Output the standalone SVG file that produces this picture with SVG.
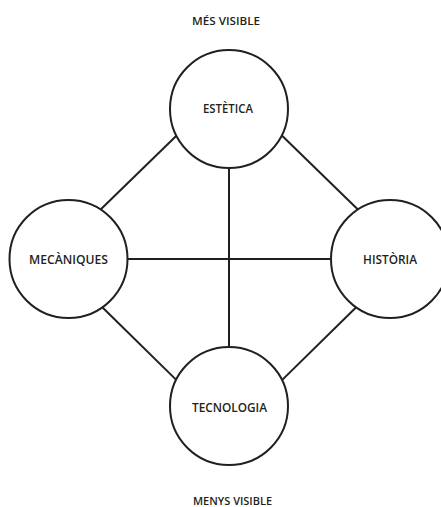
<svg xmlns="http://www.w3.org/2000/svg" width="441" height="507" viewBox="0 0 441 507">
<style>
.node circle{fill:#fff;stroke:#231f20;stroke-width:2}
.conn line{stroke:#231f20;stroke-width:2}
text{font-family:"Open Sans","Liberation Sans",sans-serif;font-weight:600;fill:#231f20}
.lbl{font-size:12.5px}
.cap{font-size:11px}
</style>
<rect width="441" height="507" fill="#fff"/>
<g id="connectors" class="conn">
<line x1="229" y1="168" x2="229" y2="347"/>
<line x1="127.5" y1="259" x2="331" y2="259"/>
<line x1="100.6" y1="209.5" x2="176.4" y2="135.8"/>
<line x1="357.9" y1="209.5" x2="282.1" y2="135.8"/>
<line x1="102.3" y1="307.3" x2="176" y2="379.6"/>
<line x1="356.2" y1="307.3" x2="282.5" y2="379.6"/>
</g>
<g id="estetica" class="node">
<circle cx="229" cy="109" r="59"/>
<text class="lbl" x="203" y="112.5" textLength="50" lengthAdjust="spacingAndGlyphs">ESTÈTICA</text>
</g>
<g id="mecaniques" class="node">
<circle cx="68.5" cy="259" r="59"/>
<text class="lbl" x="29" y="263.5" textLength="79" lengthAdjust="spacingAndGlyphs">MECÀNIQUES</text>
</g>
<g id="historia" class="node">
<circle cx="390" cy="259" r="59"/>
<text class="lbl" x="363" y="263.5" textLength="54" lengthAdjust="spacingAndGlyphs">HISTÒRIA</text>
</g>
<g id="tecnologia" class="node">
<circle cx="229" cy="406" r="59"/>
<text class="lbl" x="192" y="411.5" textLength="75" lengthAdjust="spacingAndGlyphs">TECNOLOGIA</text>
</g>
<g id="mes-visible">
<text class="cap" x="192" y="25" textLength="68" lengthAdjust="spacingAndGlyphs">MÉS VISIBLE</text>
</g>
<g id="menys-visible">
<text class="cap" x="193" y="505" textLength="79" lengthAdjust="spacingAndGlyphs">MENYS VISIBLE</text>
</g>
</svg>
